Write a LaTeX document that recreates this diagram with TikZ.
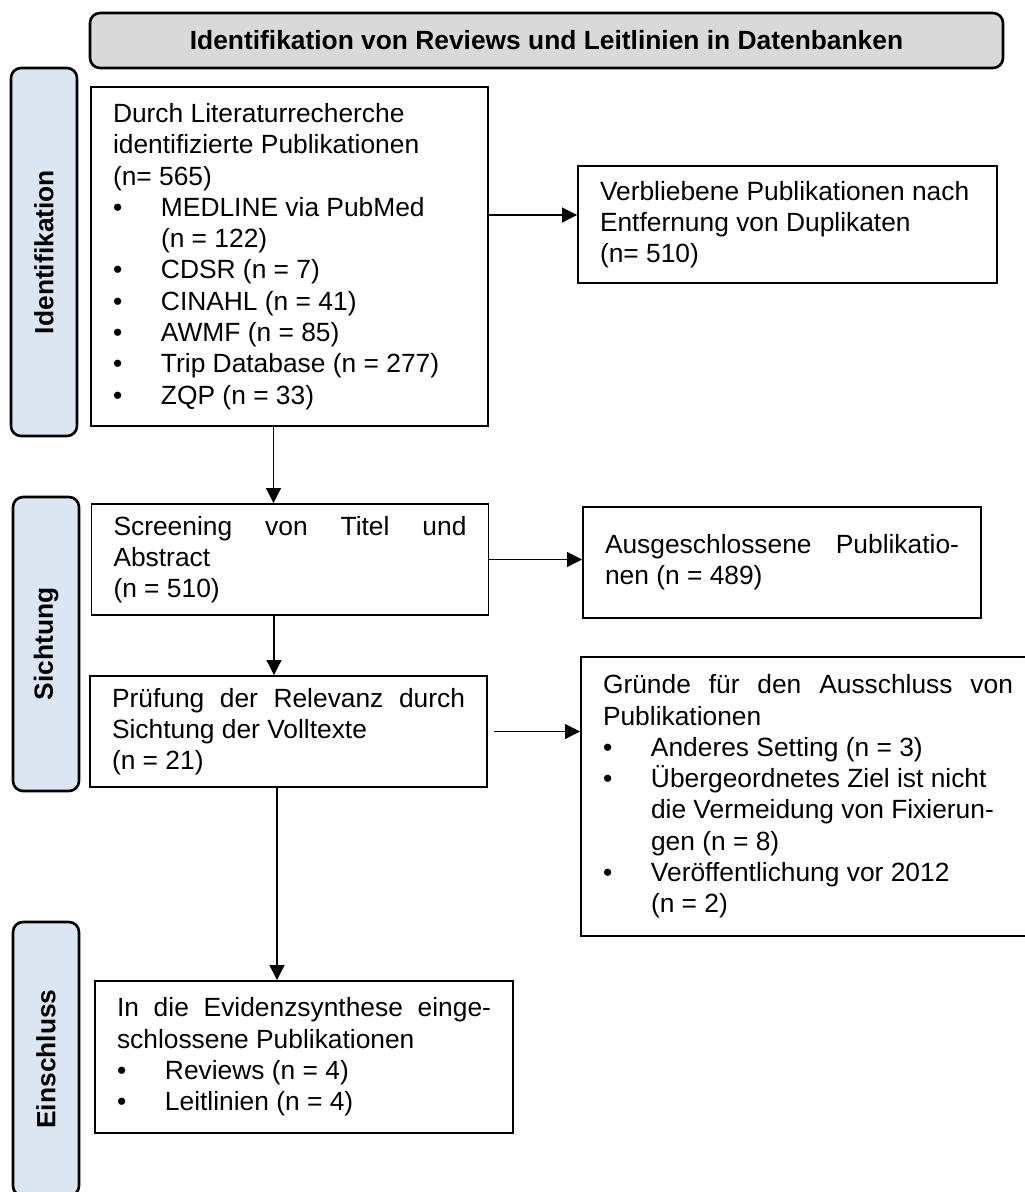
\documentclass[tikz,border=0pt]{standalone}
\usepackage{fontspec}
\setmainfont{Liberation Sans}
\usetikzlibrary{arrows.meta}
\definecolor{phasenblau}{HTML}{DCE6F2}
\definecolor{kopfgrau}{HTML}{D9D9D9}
\setlength{\parindent}{0pt}
% normale Wortabstaende und Zeilenumbruch ohne neuen Absatz
\newcommand{\satz}{\spaceskip=0pt\xspaceskip=0pt\let\\\newline}
% Aufzaehlungspunkt mit haengendem Einzug
\newcommand{\punkt}[1]{\par\noindent\hangindent=0.96cm\hangafter=1\makebox[0.96cm][l]{\textbullet}#1\par}
% Blocksatz fuer eine einzelne Zeile
\newcommand{\zeile}[1]{\makebox[\hsize][s]{#1}}

\begin{document}
\begin{tikzpicture}[
  kasten/.style={draw=black, line width=1.1pt, font=\fontsize{15}{17.8}\selectfont,
                 inner xsep=0.44cm, inner ysep=0pt, fill=white, execute at begin node=\satz},
  phase/.style={draw=black, line width=1.5pt, rounded corners=0.2cm, fill=phasenblau,
                font=\fontsize{15}{17.8}\selectfont\bfseries, minimum height=1.32cm, rotate=90},
  kopf/.style={draw=black, line width=1.5pt, rounded corners=0.2cm, fill=kopfgrau,
               font=\fontsize{15}{17.8}\selectfont\bfseries, minimum width=18.26cm, minimum height=1.1cm},
  pfeil/.style={-{Triangle[length=3mm, width=3mm]}, line width=0.6pt}]
  \useasboundingbox (0,0) rectangle (20.5,-23.84);
  \clip (0,0) rectangle (20.5,-23.84);
  \node[kopf] (titel) at (10.93,-0.81) {Identifikation von Reviews und Leitlinien in Datenbanken};
  \node[phase, minimum width=7.36cm] (ident)   at (0.88,-5.04)  {Identifikation};
  \node[phase, minimum width=5.88cm] (sicht)   at (0.92,-12.88) {Sichtung};
  \node[phase, minimum width=5.48cm] (einschl) at (0.92,-21.18) {Einschluss};
  \node[kasten, text width=7.06cm, minimum height=6.78cm] (such) at (5.79,-5.13)
    {Durch Literaturrecherche\\identifizierte Publikationen\\(n= 565)
     \punkt{MEDLINE via PubMed\\(n = 122)}
     \punkt{CDSR (n = 7)}
     \punkt{CINAHL (n = 41)}
     \punkt{AWMF (n = 85)}
     \punkt{Trip Database (n = 277)}
     \punkt{ZQP (n = 33)}};
  \node[kasten, text width=7.5cm, minimum height=2.34cm] (verbl) at (15.75,-4.49)
    {Verbliebene Publikationen nach\\Entfernung von Duplikaten\\(n= 510)};
  \node[kasten, text width=7.06cm, minimum height=2.22cm] (screen) at (5.8,-11.19)
    {\zeile{Screening von Titel und}\\Abstract\\(n = 510)};
  \node[kasten, text width=7.08cm, minimum height=2.22cm] (ausg) at (15.64,-11.25)
    {\zeile{Ausgeschlossene Publikatio-}\\nen (n = 489)};
  \node[kasten, text width=7.06cm, minimum height=2.22cm] (pruef) at (5.77,-14.63)
    {\zeile{Prüfung der Relevanz durch}\\Sichtung der Volltexte\\(n = 21)};
  \node[kasten, text width=8.2cm, minimum height=5.58cm] (gruende) at (16.16,-15.93)
    {\zeile{Gründe für den Ausschluss von}\\Publikationen
     \punkt{Anderes Setting (n = 3)}
     \punkt{Übergeordnetes Ziel ist nicht\\die Vermeidung von Fixierun-\\gen (n = 8)}
     \punkt{Veröffentlichung vor 2012\\(n = 2)}};
  \node[kasten, text width=7.48cm, minimum height=3.04cm] (synth) at (6.08,-21.14)
    {\zeile{In die Evidenzsynthese einge-}\\schlossene Publikationen
     \punkt{Reviews (n = 4)}
     \punkt{Leitlinien (n = 4)}};
  \draw[pfeil] ([yshift=0.83cm]such.east) -- ([yshift=0.83cm]such.east -| verbl.west);
  \draw[pfeil] ([xshift=-0.32cm]such.south) -- ([xshift=-0.32cm]such.south |- screen.north);
  \draw[pfeil] (screen.east) -- (screen.east -| ausg.west);
  \draw[pfeil] ([xshift=-0.32cm]screen.south) -- ([xshift=-0.32cm]screen.south |- pruef.north);
  \draw[pfeil] ([xshift=0.12cm]pruef.east) -- (pruef.east -| gruende.west);
  \draw[pfeil] ([xshift=-0.23cm]pruef.south) -- ([xshift=-0.23cm]pruef.south |- synth.north);
\end{tikzpicture}
\end{document}
